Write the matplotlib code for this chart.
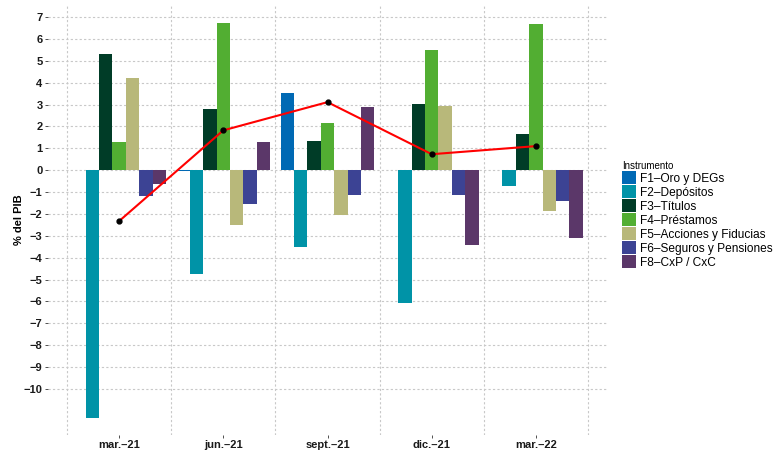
import numpy as np
from matplotlib import pyplot as plt
from matplotlib.patches import Patch

plt.rcParams['font.family'] = ['Liberation Sans', 'DejaVu Sans']

# Data (% del PIB)
periods = ['mar.\u201321', 'jun.\u201321', 'sept.\u201321', 'dic.\u201321', 'mar.\u201322']
instruments = ['F1\u2013Oro y DEGs', 'F2\u2013Dep\u00f3sitos', 'F3\u2013T\u00edtulos',
               'F4\u2013Pr\u00e9stamos', 'F5\u2013Acciones y Fiducias',
               'F6\u2013Seguros y Pensiones', 'F8\u2013CxP / CxC']
f1 = [0.03, -0.04, 3.52, 0.03, 0.03]
f2 = [-11.33, -4.74, -3.52, -6.08, -0.72]
f3 = [5.31, 2.79, 1.33, 3.02, 1.65]
f4 = [1.28, 6.72, 2.15, 5.49, 6.68]
f5 = [4.20, -2.52, -2.06, 2.93, -1.86]
f6 = [-1.18, -1.56, -1.14, -1.14, -1.40]
f8 = [-0.63, 1.28, 2.88, -3.41, -3.11]
total = [-2.33, 1.82, 3.11, 0.73, 1.10]

colors = ['#0069b4', '#0093a7', '#003c27', '#52ae32', '#b8b87a', '#3c4394', '#5b3769']

series = [f1, f2, f3, f4, f5, f6, f8]

fig = plt.figure(figsize=(7.77, 4.54), dpi=100)
ax = fig.add_axes([0.062, 0.042, 0.719, 0.947])

x = np.arange(1, len(periods) + 1)
n = len(series)
total_w = 0.9
bw = total_w / n
for i, (vals, c) in enumerate(zip(series, colors)):
    offs = -total_w / 2 + bw * (i + 0.5)
    ax.bar(x + offs, vals, width=bw, color=c, zorder=3, linewidth=0)

ax.plot(x, total, color='red', linewidth=1.5, zorder=4)
ax.plot(x, total, 'o', color='black', markersize=3.5, zorder=5)

# Axes limits and grid
ax.set_xlim(0.32, 5.68)
ax.set_ylim(-12.1, 7.55)
ax.set_yticks(np.arange(-10, 8))
ax.set_yticklabels([str(v).replace('-', '\u2212') for v in range(-10, 8)])
ax.set_xticks(x)
ax.set_xticklabels(periods)
for g in np.arange(0.5, 6.0, 1.0):
    ax.axvline(g, color='#c8c8c8', linestyle=(0, (2, 2)), linewidth=0.8, zorder=1)
ax.grid(axis='y', color='#c8c8c8', linestyle=(0, (2, 2)), linewidth=0.8, zorder=1)

for s in ax.spines.values():
    s.set_visible(False)
ax.tick_params(axis='both', length=2, width=0.6, color='#333333', labelsize=8, pad=2)
for lab in ax.get_xticklabels() + ax.get_yticklabels():
    lab.set_fontweight('bold')
    lab.set_color('#1a1a1a')
ax.set_ylabel('% del PIB', fontsize=8, fontweight='bold', labelpad=0)

# Legend
handles = [Patch(facecolor=c, edgecolor='none') for c in colors]
leg = fig.legend(handles, instruments, loc='upper left', bbox_to_anchor=(0.794, 0.656),
                 frameon=False, fontsize=8.6, title='Instrumento', title_fontsize=7,
                 handlelength=1.19, handleheight=1.3, handletextpad=0.3,
                 labelspacing=0.04, borderaxespad=0)
leg._legend_box.align = 'left'

fig.savefig('out.png', dpi=100)
